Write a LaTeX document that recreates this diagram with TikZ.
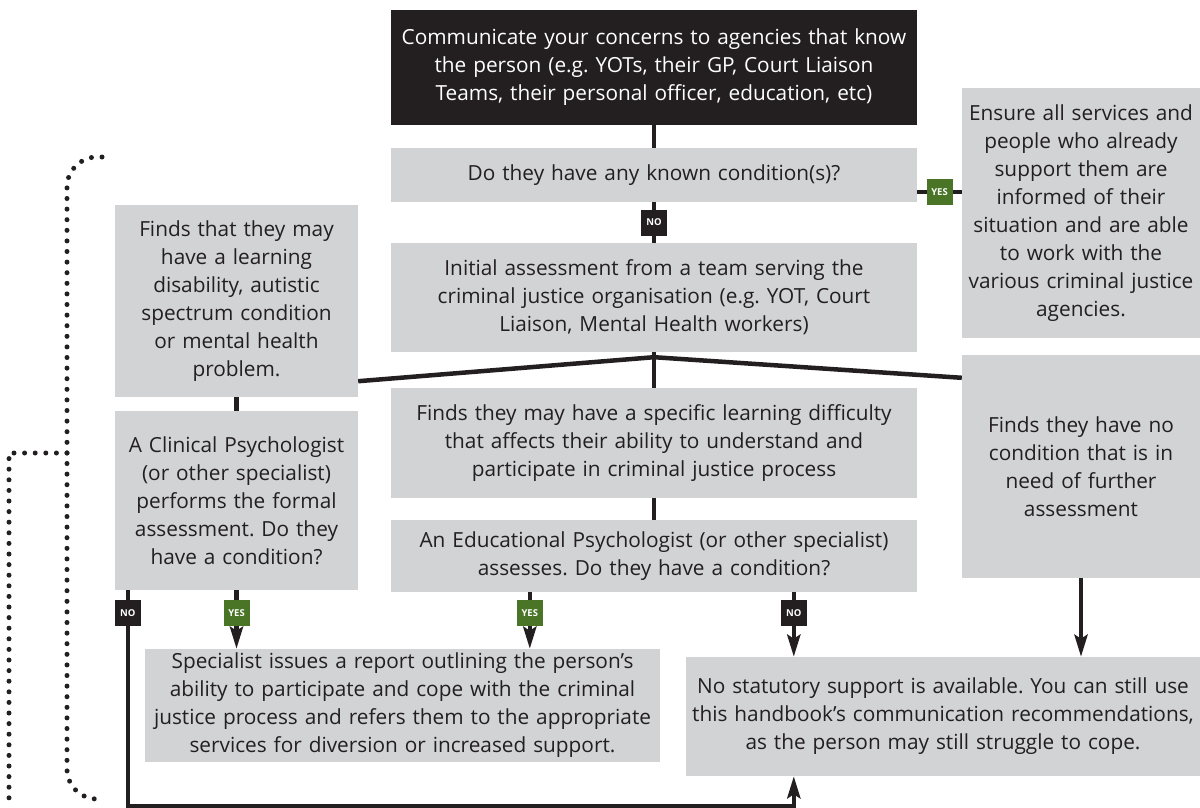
\documentclass[tikz,border=0pt]{standalone}
\usepackage{fontspec}
\setmainfont{Open Sans}
\usetikzlibrary{arrows.meta,calc}
\definecolor{boxgray}{HTML}{D1D3D4}
\definecolor{ink}{HTML}{231F20}
\definecolor{labgreen}{HTML}{4A7426}
\frenchspacing
\begin{document}
\begin{tikzpicture}[x=1pt,y=-1pt,
  box/.style={fill=boxgray, text=ink, inner sep=0pt, align=center, font=\fontsize{20.8}{28}\selectfont},
  darkbox/.style={box, fill=ink, text=white},
  lab/.style={minimum width=26pt, minimum height=26pt, inner sep=0pt, text=white, font=\fontsize{9.5}{9.5}\selectfont\bfseries},
  yeslab/.style={lab, fill=labgreen},
  nolab/.style={lab, fill=ink},
  conn/.style={draw=ink, line width=4.5pt},
  arr/.style={conn, -{Stealth[length=22pt,width=13pt,inset=4pt]}},
  dots/.style={draw=ink, line width=5pt, line cap=round, dash pattern=on 0pt off 10.6pt}]
\useasboundingbox (0,0) rectangle (1200,808);

% boxes
\node[darkbox, minimum width=526pt, minimum height=115pt, text width=522pt] (top) at (654,67.5)
  {Communicate your concerns to agencies that know\\the person (e.g. YOTs, their GP, Court Liaison\\Teams, their personal officer, education, etc)};
\node[box, minimum width=526pt, minimum height=54pt, text width=522pt] (b2) at (654,175)
  {Do they have any known condition(s)?};
\node[box, minimum width=526pt, minimum height=109pt, text width=522pt] (b3) at (654,297.5)
  {Initial assessment from a team serving the\\criminal justice organisation (e.g. YOT, Court\\Liaison, Mental Health workers)};
\node[box, minimum width=238pt, minimum height=250pt, text width=236pt] (b4) at (1081,213)
  {Ensure all services and\\people who already\\support them are\\informed of their\\situation and are able\\to work with the\\various criminal justice\\agencies.};
\node[box, minimum width=243pt, minimum height=192pt, text width=241pt] (b5) at (236.5,301)
  {Finds that they may\\have a learning\\disability, autistic\\spectrum condition\\or mental health\\problem.};
\node[box, minimum width=243pt, minimum height=179pt, text width=241pt] (b6) at (236.5,500.5)
  {A Clinical Psychologist\\(or other specialist)\\performs the formal\\assessment. Do they\\have a condition?};
\node[box, minimum width=526pt, minimum height=110pt, text width=522pt] (b7) at (654,443)
  {Finds they may have a specific learning difficulty\\that affects their ability to understand and\\participate in criminal justice process};
\node[box, minimum width=526pt, minimum height=72pt, text width=522pt] (b8) at (654,556)
  {An Educational Psychologist (or other specialist)\\assesses. Do they have a condition?};
\node[box, minimum width=238pt, minimum height=223pt, text width=236pt] (b9) at (1081,466.5)
  {Finds they have no\\condition that is in\\need of further\\assessment};
\node[box, minimum width=515pt, minimum height=113pt, text width=513pt] (b10) at (402.5,705.5)
  {Specialist issues a report outlining the person's\\ability to participate and cope with the criminal\\justice process and refers them to the appropriate\\services for diversion or increased support.};
\node[box, minimum width=514pt, minimum height=119pt, text width=512pt] (b11) at (943,716.5)
  {No statutory support is available. You can still use\\this handbook's communication recommendations,\\as the person may still struggle to cope.};

% helper coordinates
\coordinate (c1) at ([xshift=13pt]b6.south west);
\coordinate (p1) at ([xshift=139pt]b8.south west);
\coordinate (p2) at ([xshift=403pt]b8.south west);
\coordinate (c3) at ([yshift=-17pt]b2.east);
\coordinate (apex) at ([yshift=-5pt]b3.south);
\coordinate (lend) at ([yshift=16pt]b5.south east);
\coordinate (rend) at ([yshift=-23pt]b9.north west);

% connectors
\draw[conn] (top.south) -- (b2.north);
\draw[conn] (b2.south) -- node[nolab]{NO} (b3.north);
\draw[conn] (c3) -- node[yeslab]{YES} (c3 -| b4.west);
\draw[conn] (b3.south) -- (b7.north);
\draw[conn] (lend) -- (apex) -- (rend);
\draw[conn] (b5.south) -- (b6.north);
\draw[conn] (b7.south) -- (b8.north);
\draw[arr] (b6.south) -- node[yeslab,pos=0.39]{YES} (b6.south |- b10.north);
\draw[arr] (p1) -- node[yeslab,pos=0.37]{YES} (p1 |- b10.north);
\draw[arr] (p2) -- node[nolab,pos=0.32]{NO} (p2 |- b11.north);
\draw[arr] (b9.south) -- (b9.south |- b11.north);
\draw[arr] (c1) -- node[nolab,pos=0.106]{NO} ++(0,216) -| (p2 |- b11.south);

% dotted return lines
\coordinate (o1) at (102,157);
\coordinate (o2) at (97,799);
\coordinate (i1) at (67,453);
\coordinate (i2) at (9,806);
\draw[dots, rounded corners=30pt] (o1) -- (67,157) -- (67,799) -- (o2);
\draw[dots] (i1) -- (i1 -| i2) -- (i2);
\end{tikzpicture}
\end{document}
